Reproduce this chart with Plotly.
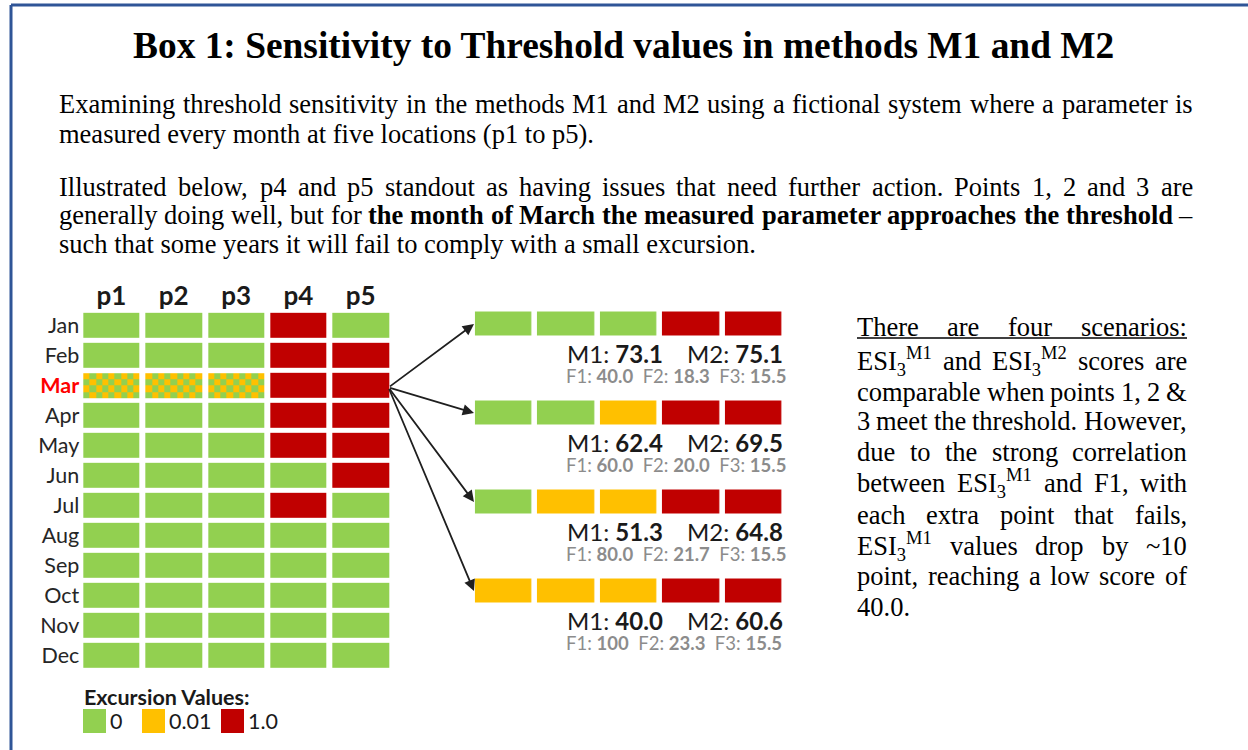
import re
import plotly.graph_objects as go

W, H = 1248, 750

# ---------------- data ----------------
months = ["Jan", "Feb", "Mar", "Apr", "May", "Jun", "Jul", "Aug", "Sep", "Oct", "Nov", "Dec"]
points = ["p1", "p2", "p3", "p4", "p5"]
# excursion value per month for each point (None = borderline month, drawn checkered)
p1_vals = [0, 0, None, 0, 0, 0, 0, 0, 0, 0, 0, 0]
p2_vals = [0, 0, None, 0, 0, 0, 0, 0, 0, 0, 0, 0]
p3_vals = [0, 0, None, 0, 0, 0, 0, 0, 0, 0, 0, 0]
p4_vals = [1, 1, 1, 1, 1, 0, 1, 0, 0, 0, 0, 0]
p5_vals = [0, 1, 1, 1, 1, 1, 0, 0, 0, 0, 0, 0]
borderline_month = "Mar"
borderline_values = [0.01, 0]

scenario_vals = [
    [0, 0, 0, 1, 1],
    [0, 0, 0.01, 1, 1],
    [0, 0.01, 0.01, 1, 1],
    [0.01, 0.01, 0.01, 1, 1],
]
m1_scores = [73.1, 62.4, 51.3, 40.0]
m2_scores = [75.1, 69.5, 64.8, 60.6]
f1_scores = ["40.0", "60.0", "80.0", "100"]
f2_scores = [18.3, 20.0, 21.7, 23.3]
f3_scores = [15.5, 15.5, 15.5, 15.5]
legend_labels = ["0", "0.01", "1.0"]
legend_values = [0, 0.01, 1.0]

# ---------------- style ----------------
GREEN, ORANGE, RED = "#92D050", "#FFC000", "#C00000"
COLORSCALE = [[0, GREEN], [0.005, GREEN], [0.005, ORANGE], [0.5, ORANGE], [0.5, RED], [1, RED]]
BLUE = "#2F5597"
SANS = "Lato"
SERIF = "Liberation Serif"


def value_color(v):
    return GREEN if v < 0.005 else (ORANGE if v < 0.5 else RED)


def fx(x):
    return x / W


def fy(y):
    return 1 - y / H


# geometry in px
G_X0, G_X1, G_Y0, G_Y1 = 80.3, 391.8, 310.8, 670.3
G_XGAP, G_YGAP = 6, 5
S_X0, S_X1, S_Y0, S_Y1 = 472.9, 785.1, 279.5, 635.5
S_XGAP, S_YGAP = 5.6, 65

fig = go.Figure()

# main grid
cols_by_point = [p1_vals, p2_vals, p3_vals, p4_vals, p5_vals]
z_grid = [[col[i] for col in cols_by_point] for i in range(len(months))]
fig.add_trace(go.Heatmap(
    z=z_grid, x=list(range(len(points))), y=list(range(len(months))),
    colorscale=COLORSCALE, zmin=0, zmax=1, showscale=False,
    xgap=G_XGAP, ygap=G_YGAP, hoverinfo="skip", xaxis="x", yaxis="y"))

# checkered borderline cells
r = months.index(borderline_month)
bl_cols = [c for c, vals in enumerate(cols_by_point) if vals[r] is None]
hx = (G_XGAP / 2) / ((G_X1 - G_X0) / len(points))
hy = (G_YGAP / 2) / ((G_Y1 - G_Y0) / len(months))
NX, NY = 9, 4
xe, col_kind = [], []
for k, c in enumerate(bl_cols):
    left, right = c - 0.5 + hx, c + 0.5 - hx
    if k > 0:
        col_kind.append(None)
    xe.extend(left + (right - left) * j / NX for j in range(NX + 1))
    col_kind.extend(range(NX))
ye = [r - 0.5 + hy + (1 - 2 * hy) * j / NY for j in range(NY + 1)]
zc = [[None if kd is None else borderline_values[(kd + j) % 2] for kd in col_kind] for j in range(NY)]
fig.add_trace(go.Heatmap(
    z=zc, x=xe, y=ye, colorscale=COLORSCALE, zmin=0, zmax=1, showscale=False,
    hoverinfo="skip", xaxis="x", yaxis="y"))

# scenarios
fig.add_trace(go.Heatmap(
    z=scenario_vals, x=list(range(len(points))), y=list(range(len(scenario_vals))),
    colorscale=COLORSCALE, zmin=0, zmax=1, showscale=False,
    xgap=S_XGAP, ygap=S_YGAP, hoverinfo="skip", xaxis="x2", yaxis="y2"))

annotations = []
shapes = []

for i in range(len(scenario_vals)):
    annotations.append(dict(
        text=f"M1: <b>{m1_scores[i]:.1f}</b>", xref="paper", x=fx(565), xanchor="left",
        yref="y2", y=i, yanchor="middle", yshift=-29, showarrow=False,
        font=dict(family=SANS, size=24, color="#1a1a1a")))
    annotations.append(dict(
        text=f"M2: <b>{m2_scores[i]:.1f}</b>", xref="paper", x=fx(785), xanchor="right",
        yref="y2", y=i, yanchor="middle", yshift=-29, showarrow=False,
        font=dict(family=SANS, size=24, color="#1a1a1a")))
    annotations.append(dict(
        text=(f"F1: <b>{f1_scores[i]}</b>&nbsp; F2: <b>{f2_scores[i]:.1f}</b>"
              f"&nbsp; F3: <b>{f3_scores[i]:.1f}</b>"),
        xref="paper", x=fx(564), xanchor="left",
        yref="y2", y=i, yanchor="middle", yshift=-52, showarrow=False,
        font=dict(family=SANS, size=18.5, color="#8c8c8c")))

# arrows from March p5 to each scenario
TAIL = (388.5, 387.5)
S_PITCH = (S_Y1 - S_Y0) / len(scenario_vals)
for i in range(len(scenario_vals)):
    hxp, hyp = 474, S_Y0 + (i + 0.5) * S_PITCH
    annotations.append(dict(
        text="", x=fx(hxp), y=fy(hyp), xref="paper", yref="paper",
        showarrow=True, ax=TAIL[0] - hxp, ay=TAIL[1] - hyp, axref="pixel", ayref="pixel",
        arrowhead=2, arrowsize=1.25, arrowwidth=1.8, arrowcolor="#1f1f1f", standoff=0))

# legend
annotations.append(dict(
    text="<b>Excursion Values:</b>", xref="paper", yref="paper", x=fx(82), y=fy(697),
    xanchor="left", yanchor="middle", showarrow=False,
    font=dict(family=SANS, size=21.5, color="#1a1a1a")))
LEG_X = [83, 142, 221]
for lx, lab, v in zip(LEG_X, legend_labels, legend_values):
    shapes.append(dict(type="rect", xref="paper", yref="paper",
                       x0=fx(lx), x1=fx(lx + 23), y0=fy(733), y1=fy(709),
                       fillcolor=value_color(v), line=dict(width=0)))
    annotations.append(dict(
        text=lab, xref="paper", yref="paper", x=fx(lx + 25), y=fy(721),
        xanchor="left", yanchor="middle", showarrow=False,
        font=dict(family=SANS, size=21.5, color="#1a1a1a")))

# ---------------- text ----------------
TR = {}
TB = {}
for ch, w in zip("abcdefghijklmnopqrstuvwxyz",
                 [444, 500, 444, 500, 444, 333, 500, 500, 278, 278, 500, 278, 778, 500, 500, 500, 500, 333, 389, 278, 500, 500, 722, 500, 500, 444]):
    TR[ch] = w
for ch, w in zip("ABCDEFGHIJKLMNOPQRSTUVWXYZ",
                 [722, 667, 667, 722, 611, 556, 722, 722, 333, 389, 722, 611, 889, 722, 722, 556, 722, 667, 556, 611, 722, 722, 944, 722, 722, 611]):
    TR[ch] = w
for ch, w in zip("abcdefghijklmnopqrstuvwxyz",
                 [500, 556, 444, 556, 444, 333, 500, 556, 278, 333, 556, 278, 833, 556, 500, 556, 556, 444, 389, 333, 556, 500, 722, 500, 500, 444]):
    TB[ch] = w
for ch, w in zip("ABCDEFGHIJKLMNOPQRSTUVWXYZ",
                 [722, 667, 722, 722, 667, 611, 778, 778, 389, 500, 778, 667, 944, 722, 778, 611, 778, 722, 556, 667, 722, 722, 1000, 722, 722, 667]):
    TB[ch] = w
for d in "0123456789":
    TR[d] = TB[d] = 500
TR.update({" ": 250, ",": 250, ".": 250, ":": 278, "(": 333, ")": 333, "&": 778, "~": 541, "–": 500, "-": 333})
TB.update({" ": 250, ",": 250, ".": 250, ":": 333, "(": 333, ")": 333, "&": 833, "~": 520, "–": 500, "-": 333})

TAG_RE = re.compile(r"(<[^>]+>)")


def html_width(s, size):
    s = s.replace("&amp;", "&").replace("&nbsp;", " ")
    bold, scale, w = False, 1.0, 0.0
    for tok in TAG_RE.split(s):
        if not tok:
            continue
        if tok.startswith("<"):
            t = tok.lower()
            if t == "<b>":
                bold = True
            elif t == "</b>":
                bold = False
            elif t in ("<sub>", "<sup>"):
                scale = 0.7
            elif t in ("</sub>", "</sup>"):
                scale = 1.0
            continue
        tbl = TB if bold else TR
        w += sum(tbl.get(ch, 500) for ch in tok) * scale
    return w / 1000 * size


def add_line(words, y, left, right, justify, size=26.5, color="#000000"):
    font = dict(family=SERIF, size=size, color=color)
    if not justify:
        annotations.append(dict(text=" ".join(words), xref="paper", yref="paper",
                                x=fx(left), y=fy(y), xanchor="left", yanchor="middle",
                                showarrow=False, font=font, borderpad=0, borderwidth=0))
        return
    widths = [html_width(wd, size) for wd in words]
    gap = (right - left - sum(widths)) / (len(words) - 1)
    x = left
    for k, (wd, ww) in enumerate(zip(words, widths)):
        last = k == len(words) - 1
        annotations.append(dict(text=wd, xref="paper", yref="paper",
                                x=fx(right if last else x), y=fy(y),
                                xanchor="right" if last else "left", yanchor="middle",
                                showarrow=False, font=font, borderpad=0, borderwidth=0))
        x += ww + gap


def words_of(segments):
    out = []
    for txt, bold in segments:
        for wd in txt.split():
            out.append(f"<b>{wd}</b>" if bold else wd)
    return out


# title
annotations.append(dict(
    text="<b>Box 1: Sensitivity to Threshold values in methods M1 and M2</b>",
    xref="paper", yref="paper", x=fx(623), y=fy(45), xanchor="center", yanchor="middle",
    showarrow=False, font=dict(family=SERIF, size=37.4, color="#000000")))

BL, BR = 59, 1193
add_line(words_of([("Examining threshold sensitivity in the methods M1 and M2 using a fictional "
                    "system where a parameter is", False)]), 104, BL, BR, True)
add_line(["measured every month at five locations (p1 to p5)."], 134, BL, BR, False)
add_line(words_of([("Illustrated below, p4 and p5 standout as having issues that need further "
                    "action. Points 1, 2 and 3 are", False)]), 187, BL, BR, True)
add_line(words_of([("generally doing well, but for", False),
                   ("the month of March the measured parameter approaches the threshold", True),
                   ("–", False)]), 215, BL, BR, True)
add_line(["such that some years it will fail to comply with a small excursion."], 244, BL, BR, False)

ESI1 = "ESI<sub>3</sub><sup>M1</sup>"
ESI2 = "ESI<sub>3</sub><sup>M2</sup>"
right_lines = [
    ["There", "are", "four", "scenarios:"],
    [ESI1, "and", ESI2, "scores", "are"],
    ["comparable", "when", "points", "1,", "2", "&amp;"],
    ["3", "meet", "the", "threshold.", "However,"],
    ["due", "to", "the", "strong", "correlation"],
    ["between", ESI1, "and", "F1,", "with"],
    ["each", "extra", "point", "that", "fails,"],
    [ESI1, "values", "drop", "by", "~10"],
    ["point,", "reaching", "a", "low", "score", "of"],
    ["40.0."],
]
right_y = [327, 361, 392, 421, 452, 483, 515, 546, 576, 607]
RL, RR = 857, 1187
for k, (wl, yy) in enumerate(zip(right_lines, right_y)):
    add_line(wl, yy, RL, RR, k < len(right_lines) - 1)
# underline of first line
shapes.append(dict(type="line", xref="paper", yref="paper", x0=fx(RL), x1=fx(RR),
                   y0=fy(right_y[0] + 11), y1=fy(right_y[0] + 11),
                   line=dict(color="#000000", width=1.3)))

# frame
shapes.append(dict(type="line", xref="paper", yref="paper", x0=fx(11), x1=1.0, y0=fy(5), y1=fy(5),
                   line=dict(color=BLUE, width=3)))
shapes.append(dict(type="line", xref="paper", yref="paper", x0=fx(11), x1=fx(11), y0=fy(5), y1=0,
                   line=dict(color=BLUE, width=3)))

month_ticks = [f"<b><span style='color:#FF0000'>{m}</span></b>" if m == borderline_month else m
               for m in months]

fig.update_layout(
    width=W, height=H, margin=dict(l=0, r=0, t=0, b=0),
    paper_bgcolor="white", plot_bgcolor="white", showlegend=False,
    xaxis=dict(domain=[fx(G_X0), fx(G_X1)], range=[-0.5, 4.5], side="top",
               tickvals=list(range(len(points))), ticktext=[f"<b>{p}</b>" for p in points],
               tickfont=dict(family=SANS, size=26, color="#1a1a1a"), ticks="",
               showgrid=False, zeroline=False, showline=False, anchor="y", fixedrange=True),
    yaxis=dict(domain=[fy(G_Y1), fy(G_Y0)], range=[11.5, -0.5],
               tickvals=list(range(len(months))), ticktext=month_ticks,
               tickfont=dict(family=SANS, size=21.5, color="#262626"), ticks="",
               showgrid=False, zeroline=False, showline=False, anchor="x", fixedrange=True),
    xaxis2=dict(domain=[fx(S_X0), fx(S_X1)], range=[-0.5, 4.5], visible=False, anchor="y2"),
    yaxis2=dict(domain=[fy(S_Y1), fy(S_Y0)], range=[3.5, -0.5], visible=False, anchor="x2"),
    annotations=annotations, shapes=shapes,
)

fig.write_html("out.html", config={"displayModeBar": False},
               post_script="document.body.style.margin='0';")
